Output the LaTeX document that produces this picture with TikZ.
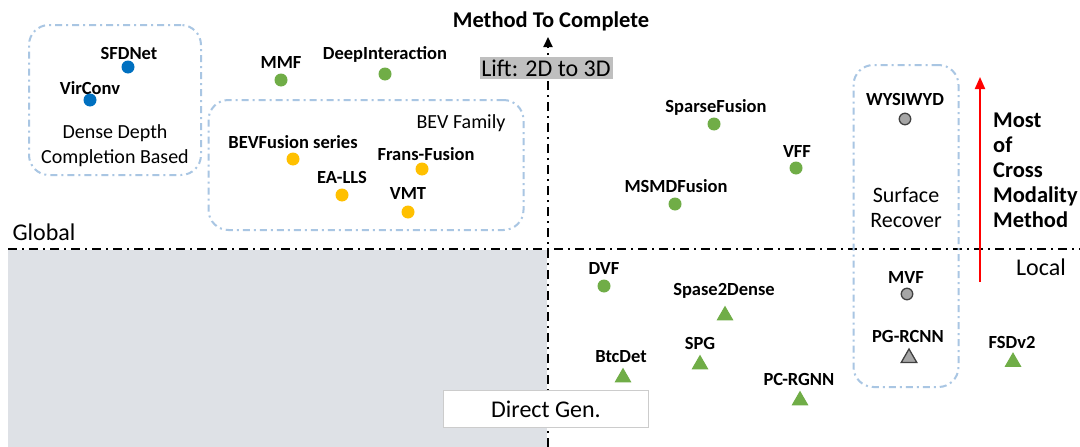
\documentclass[tikz,border=0pt]{standalone}
\usepackage{fontspec}
\setmainfont{Carlito}
\usetikzlibrary{arrows.meta,shapes.geometric}
\definecolor{ptgreen}{HTML}{70AD47}
\definecolor{ptblue}{HTML}{0070C0}
\definecolor{ptyellow}{HTML}{FFC000}
\definecolor{ptgrey}{HTML}{A6A6A6}
\definecolor{framblue}{HTML}{A9C6E3}
\definecolor{quadgrey}{HTML}{DEE1E6}
\definecolor{liftgrey}{HTML}{BFBFBF}
\tikzset{
  lbl/.style={font=\bfseries\fontsize{18.5}{20}\selectfont, inner sep=0pt},
  plain/.style={font=\fontsize{20}{24}\selectfont, inner sep=0pt},
  dotpt/.style={circle, inner sep=0pt, minimum size=13pt, fill=#1},
  greydot/.style={circle, inner sep=0pt, minimum size=11.5pt, fill=ptgrey, draw=black!75, line width=1.3pt},
  tripts/.style={regular polygon, regular polygon sides=3, inner sep=0pt, minimum size=19.6pt, fill=#1},
  greytri/.style={regular polygon, regular polygon sides=3, inner sep=0pt, minimum size=18pt, fill=ptgrey, draw=black!75, line width=1.3pt},
  groupframe/.style={draw=framblue, line width=2pt, rounded corners=20pt, dash pattern=on 7pt off 4pt on 2pt off 4pt},
  axisline/.style={line width=2pt, dash pattern=on 9pt off 5pt on 2pt off 5pt},
}
\begin{document}
\begin{tikzpicture}[x=1pt, y=-1pt]
\useasboundingbox (0,0) rectangle (1080,447);
\fill[white] (0,0) rectangle (1080,447);

% shaded quadrant
\fill[quadgrey] (8,250) rectangle (547,447);

% axes
\coordinate (hl) at (8,249);
\coordinate (hr) at (1080,249);
\coordinate (vb) at (548,447);
\coordinate (vt) at (548,37);
\draw[axisline] (hl) -- (hr);
\draw[axisline, -{Triangle[width=9pt,length=10pt]}] (vb) -- (vt);

\node[font=\bfseries\fontsize{22.5}{24}\selectfont, inner sep=0pt] (ytitle) at (551,21) {Method To Complete};
\node[fill=liftgrey, inner sep=1pt, minimum width=133pt, minimum height=22pt, font=\fontsize{24}{26}\selectfont] (lift) at (546,68) {Lift: 2D to 3D};
\node[fill=white, draw=black!20, line width=0.8pt, minimum width=205pt, minimum height=37pt, font=\fontsize{24}{26}\selectfont] (direct) at (546,409) {Direct Gen.};
\node[plain, font=\fontsize{24}{26}\selectfont] (global) at (44,232) {Global};
\node[plain, font=\fontsize{24}{26}\selectfont] (local) at (1041,267) {Local};

% group frames
\node[groupframe, minimum width=172pt, minimum height=150pt] (dense) at (115,100) {};
\node[groupframe, minimum width=315pt, minimum height=130pt] (bev) at (366,165) {};
\node[groupframe, minimum width=105pt, minimum height=322pt] (surface) at (906,226) {};

\node[plain] (densetxt) at (115,146) {\begin{tabular}{@{}c@{}}Dense Depth\\[1pt]Completion Based\end{tabular}};
\node[plain] (bevtxt) at (461,123) {BEV Family};
\node[plain, font=\fontsize{22}{24}\selectfont] (surftxt) at (906,210) {\begin{tabular}{@{}c@{}}Surface\\[1pt]Recover\end{tabular}};

% dense depth completion
\node[lbl] (sfdnetL) at (129,54) {SFDNet};
\node[dotpt=ptblue] (sfdnet) at (128,67) {};
\node[lbl] (virconvL) at (90,88) {VirConv};
\node[dotpt=ptblue] (virconv) at (90,100) {};

% global, outside families
\node[lbl] (mmfL) at (281,63) {MMF};
\node[dotpt=ptgreen] (mmf) at (281,80) {};
\node[lbl] (deepL) at (385,54) {DeepInteraction};
\node[dotpt=ptgreen] (deep) at (385,74) {};

% BEV family
\node[lbl] (bevfL) at (293,142) {BEVFusion series};
\node[dotpt=ptyellow] (bevf) at (293,159) {};
\node[lbl] (fransL) at (426,154) {Frans-Fusion};
\node[dotpt=ptyellow] (frans) at (422,169) {};
\node[lbl] (eallsL) at (342,177) {EA-LLS};
\node[dotpt=ptyellow] (ealls) at (342,195) {};
\node[lbl] (vmtL) at (408,194) {VMT};
\node[dotpt=ptyellow] (vmt) at (408,212) {};

% upper right
\node[lbl] (sparseL) at (716,107) {SparseFusion};
\node[dotpt=ptgreen] (sparse) at (714,124) {};
\node[lbl] (vffL) at (797,152) {VFF};
\node[dotpt=ptgreen] (vff) at (796,168) {};
\node[lbl] (msmdL) at (676,186) {MSMDFusion};
\node[dotpt=ptgreen] (msmd) at (675,204) {};

% surface recover
\node[lbl] (wysL) at (905,99) {WYSIWYD};
\node[greydot] (wys) at (905,119) {};
\node[lbl] (mvfL) at (906,277) {MVF};
\node[greydot] (mvf) at (907,294) {};
\node[lbl] (pgL) at (908,336) {PG-RCNN};
\node[greytri] (pg) at (909,358) {};

% lower right
\node[lbl] (dvfL) at (604,268) {DVF};
\node[dotpt=ptgreen] (dvf) at (604,286) {};
\node[lbl] (s2dL) at (724,291) {Spase2Dense};
\node[tripts=ptgreen] (s2d) at (725,315.5) {};
\node[lbl] (spgL) at (700,343) {SPG};
\node[tripts=ptgreen] (spg) at (700,364.5) {};
\node[lbl] (btcL) at (621,357) {BtcDet};
\node[tripts=ptgreen] (btc) at (623,377.5) {};
\node[lbl] (pcL) at (799,379) {PC-RGNN};
\node[tripts=ptgreen] (pc) at (800,400.5) {};
\node[lbl] (fsdL) at (1012,342) {FSDv2};
\node[tripts=ptgreen] (fsd) at (1013,362) {};

% red trend arrow
\coordinate (rb) at (980,282);
\coordinate (rt) at (980,77);
\draw[red, line width=2pt, -{Triangle[width=10pt,length=12pt]}] (rb) -- (rt);
\node[anchor=west, align=left, inner sep=0pt, font=\bfseries\fontsize{22.5}{25}\selectfont] (most) at (993,170) {Most\\of\\Cross\\Modality\\Method};
\end{tikzpicture}
\end{document}
